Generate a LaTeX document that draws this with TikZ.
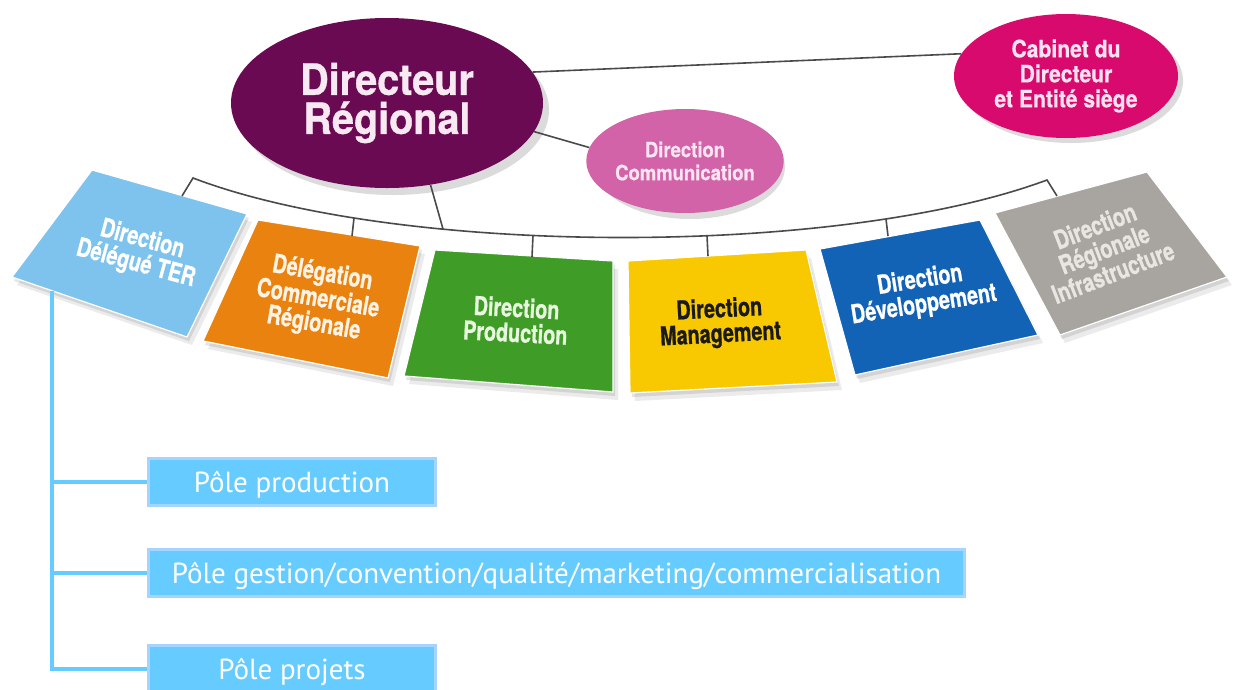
\documentclass[tikz,border=0pt]{standalone}
\usepackage{fontspec}
\setmainfont{PT Sans}
\newfontfamily\headf[FakeStretch=0.92,FakeBold=0.8]{TeX Gyre Heros}
\newfontfamily\ellf[FakeStretch=0.88,FakeBold=0.6]{TeX Gyre Heros}
\newfontfamily\cardf[FakeStretch=0.76,FakeBold=0.8]{TeX Gyre Heros}
\usetikzlibrary{shapes.geometric}
\definecolor{dirc}{HTML}{6A0A52}
\definecolor{commc}{HTML}{D263A8}
\definecolor{cabc}{HTML}{D90A6E}
\definecolor{lbluec}{HTML}{7DC3EE}
\definecolor{orangec}{HTML}{E9820E}
\definecolor{greenc}{HTML}{3F9D27}
\definecolor{yellowc}{HTML}{F8C800}
\definecolor{dbluec}{HTML}{1262B5}
\definecolor{grayc}{HTML}{A8A49F}
\definecolor{polec}{HTML}{66CCFF}
\definecolor{poleb}{HTML}{A6D4FF}
\definecolor{busc}{HTML}{4A4A4A}
\newcommand\mycard[6]{%
  \fill[black, fill opacity=.10] ([shift={(2,4)}]#2) -- ([shift={(2,4)}]#3) -- ([shift={(2,4)}]#4) -- ([shift={(2,4)}]#5) -- cycle;
  \fill[black, fill opacity=.08] ([shift={(5,8)}]#2) -- ([shift={(5,8)}]#3) -- ([shift={(5,8)}]#4) -- ([shift={(5,8)}]#5) -- cycle;
  \path[fill=#6, draw=white, line width=1.2pt] (#2) coordinate (#1-tl) -- (#3) coordinate (#1-tr) -- (#4) coordinate (#1-br) -- (#5) coordinate (#1-bl) -- cycle;
}
\begin{document}
\begin{tikzpicture}[x=1pt,y=-1pt,
  ell/.style={ellipse, inner sep=0pt, align=center},
  shad/.style={fill=black, fill opacity=.14},
  cardtext/.style={font=\cardf\bfseries\fontsize{26}{25}\selectfont, align=center, inner sep=0pt},
  bus/.style={draw=busc, line width=1.6pt},
  bluel/.style={draw=polec, line width=4pt},
  pole/.style={fill=polec, draw=poleb, line width=3pt, text=white, inner sep=0pt,
    font=\fontsize{29}{29}\selectfont, text height=20pt, text depth=0pt, minimum height=47pt}]
\useasboundingbox (0,0) rectangle (1234,689);
\fill[white] (0,0) rectangle (1234,689);
\begin{scope}
\clip (0,0) rectangle (1234,689);

% ellipse shadows
\fill[shad] (393,110) ellipse [x radius=156, y radius=85];
\fill[shad] (690,167) ellipse [x radius=95, y radius=52];
\fill[shad] (1071,81) ellipse [x radius=112, y radius=62];

% ellipses and their connectors
\node[ell, fill=dirc, minimum width=312pt, minimum height=170pt, text={rgb,255:red,248;green,232;blue,242},
  font=\headf\bfseries\fontsize{43}{39}\selectfont] (dir) at (387,103) {Directeur\\Régional};
\node[ell, fill=commc, minimum width=190pt, minimum height=104pt, text={rgb,255:red,250;green,228;blue,242},
  font=\ellf\bfseries\fontsize{21}{23}\selectfont] (comm) at (685,161) {Direction\\Communication};
\node[ell, fill=cabc, minimum width=224pt, minimum height=124pt, text={rgb,255:red,250;green,226;blue,240},
  font=\ellf\bfseries\fontsize{24}{25}\selectfont] (cab) at (1066,76) {Cabinet du\\Directeur\\et Entité siège};
\draw[bus] (dir.12) -- (cab.168);
\draw[bus] (dir.-11) -- (comm.172);

% cards
\mycard{c1}{92,170}{247,214}{187,337}{12,277}{lbluec}
\mycard{c2}{258,220}{420,246}{388,378}{203,341}{orangec}
\mycard{c3}{435,250}{613,261}{613,392}{404,376}{greenc}
\mycard{c4}{628,261}{806,250}{837,382}{630,393}{yellowc}
\mycard{c5}{820,249}{980,220}{1038,335}{855,375}{dbluec}
\mycard{c6}{995,213}{1147,172}{1227,277}{1060,335}{grayc}

\node[cardtext, rotate=-15, text=white] (t1) at (139,252) {Direction\\Délégué TER};
\node[cardtext, rotate=-10, text={rgb,255:red,255;green,243;blue,230}] (t2) at (318,299) {Délégation\\Commerciale\\Régionale};
\node[cardtext, rotate=-3, text={rgb,255:red,234;green,247;blue,224}] (t3) at (516,320) {Direction\\Production};
\node[cardtext, rotate=3, text={rgb,255:red,26;green,26;blue,26}] (t4) at (720,323) {Direction\\Management};
\node[cardtext, rotate=9, text=white] (t5) at (922,293) {Direction\\Développement};
\node[cardtext, rotate=21, text={rgb,255:red,233;green,230;blue,226}] (t6) at (1104,249) {Direction\\Régionale\\Infrastructure};

% bus
\coordinate (c1top) at (182,196);
\coordinate (b0) at (193,178);
\coordinate (b6) at (1047,180);
\coordinate (c6top) at (1057,196);
\draw[bus] (c1top) -- (b0) .. controls (400,257) and (840,257) .. (b6) -- (c6top);
\coordinate (j2) at (354,218);
\coordinate (jd) at (443,229);
\coordinate (j3) at (533,235.5);
\coordinate (j4) at (707,235.8);
\coordinate (j5) at (886,219);
\coordinate (c2top) at (352,236);
\coordinate (c3top) at (532,257);
\coordinate (c4top) at (708,256);
\coordinate (c5top) at (888,236);
\draw[bus] (dir.-62) -- (jd);
\draw[bus] (j2) -- (c2top);
\draw[bus] (j3) -- (c3top);
\draw[bus] (j4) -- (c4top);
\draw[bus] (j5) -- (c5top);

% poles
\node[pole, minimum width=287pt] (p1) at (292,482) {Pôle production};
\node[pole, minimum width=816pt] (p2) at (556.5,573) {Pôle gestion/convention/qualité/marketing/commercialisation};
\node[pole, minimum width=287pt] (p3) at (292,669) {Pôle projets};
\coordinate (tb) at (52,290.5);
\draw[bluel] (tb) |- (p3.west);
\draw[bluel] (tb |- p1.west) -- (p1.west);
\draw[bluel] (tb |- p2.west) -- (p2.west);
\end{scope}
\end{tikzpicture}
\end{document}
